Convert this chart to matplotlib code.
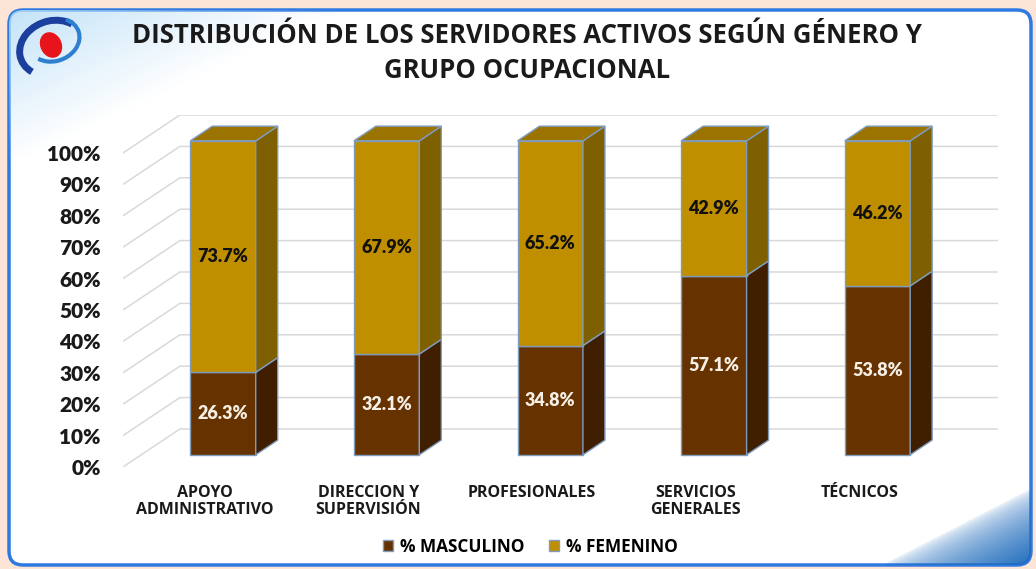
import numpy as np
import matplotlib
matplotlib.use("Agg")
import matplotlib.pyplot as plt
from matplotlib.patches import Polygon, Rectangle, FancyBboxPatch, Ellipse, Arc, Patch

# ---------------- data ----------------
categories = ["APOYO\nADMINISTRATIVO", "DIRECCION Y\nSUPERVISIÓN", "PROFESIONALES",
              "SERVICIOS\nGENERALES", "TÉCNICOS"]
masculino = [26.3, 32.1, 34.8, 57.1, 53.8]
femenino = [73.7, 67.9, 65.2, 42.9, 46.2]
yticks = [0, 10, 20, 30, 40, 50, 60, 70, 80, 90, 100]
ytick_labels = [f"{t}%" for t in yticks]
title = "DISTRIBUCIÓN DE LOS SERVIDORES ACTIVOS SEGÚN GÉNERO Y\nGRUPO OCUPACIONAL"
series_names = ["% MASCULINO", "% FEMENINO"]

# ---------------- style ----------------
NUMFONT = ["Lato", "DejaVu Sans"]
TXTFONT = ["Open Sans", "DejaVu Sans"]
plt.rcParams["font.family"] = NUMFONT
C_M_FRONT, C_M_SIDE, C_M_TOP = "#663300", "#3f1f00", "#4f2800"
C_F_FRONT, C_F_SIDE, C_F_TOP = "#bf8f00", "#7f6000", "#9a7300"
EDGE = "#7f9cc0"
GRID = "#d9d9d9"

W = 1036
H = 569
fig = plt.figure(figsize=(W / 100, H / 100), dpi=100)

# ---------------- background / frame ----------------
bg = fig.add_axes([0, 0, 1, 1], zorder=-5)
bg.set_xlim(0, W)
bg.set_ylim(H, 0)
bg.axis("off")
bg.add_patch(Rectangle((0, 0), W, H, color="#fce4d6", zorder=0))
frame = FancyBboxPatch((9, 10), W - 14, H - 14, boxstyle="round,pad=0,rounding_size=14",
                       facecolor="white", edgecolor="#2f7ae0", lw=2.5, zorder=1)
bg.add_patch(frame)
yy, xx = np.mgrid[0:H, 0:W]
# top-left light blue glow
s1 = 1 - (xx / 360 + yy / 170)
a1 = np.clip(s1, 0, 1) ** 1.0 * 0.9
img1 = np.zeros((H, W, 4))
img1[..., 0], img1[..., 1], img1[..., 2] = 0.72, 0.87, 0.97
img1[..., 3] = a1
im1 = bg.imshow(img1, extent=(0, W, H, 0), zorder=2, interpolation="bilinear")
im1.set_clip_path(frame)
# bottom-right blue corner
s2 = (xx - 880) / 156 + (yy - 485) / 80 - 1
a2 = np.clip(s2, 0, 1) ** 0.55
img2 = np.zeros((H, W, 4))
img2[..., 0], img2[..., 1], img2[..., 2] = 0.12, 0.42, 0.74
img2[..., 3] = a2
im2 = bg.imshow(img2, extent=(0, W, H, 0), zorder=3, interpolation="bilinear")
im2.set_clip_path(frame)
# logo
bg.add_patch(Ellipse((51, 45), 20, 25, angle=-25, color="#e8141c", zorder=6))
bg.add_patch(Arc((52, 48), 66, 54, angle=-20, theta1=150, theta2=330,
                 color="#1c3f9e", lw=5, zorder=5))
bg.add_patch(Arc((54, 40), 52, 42, angle=-20, theta1=-40, theta2=150,
                 color="#2e7fd0", lw=3, zorder=5))

# ---------------- main axes (pseudo-3D) ----------------
DX = 0.348   # depth offset in category units
DY = 12.1    # depth offset in percentage units
ZF, ZB = 0.32, 0.706
BW = 0.40

ax = fig.add_axes([0.1187, 0.1793, 0.8446, 0.6186])
ax.set_xlim(-0.5, 4.5 + DX)
ax.set_ylim(0, 100 + DY)
ax.patch.set_visible(False)
for sp in ax.spines.values():
    sp.set_visible(False)
ax.set_yticks(yticks, ytick_labels)
ax.set_xticks(range(len(categories)), categories)
ax.tick_params(axis="y", length=0, pad=16, labelsize=15)
ax.tick_params(axis="x", length=0, pad=13, labelsize=11.5)
for lab in ax.get_yticklabels():
    lab.set_fontweight("heavy")
    lab.set_color("#1a1a1a")
for lab in ax.get_xticklabels():
    lab.set_fontweight("bold")
    lab.set_family(TXTFONT)
    lab.set_color("#1a1a1a")
    lab.set_multialignment("center")
    lab.set_linespacing(1.05)

# gridlines: left diagonal + back wall
for t in yticks:
    ax.plot([-0.5, -0.5 + DX, 4.5 + DX], [t, t + DY, t + DY], color=GRID, lw=1.1,
            zorder=0, solid_capstyle="butt")


def draw_segment(i, b, t, front, side, top, draw_top):
    xf0 = i + ZF * DX - BW / 2
    xf1 = xf0 + BW
    yo = ZF * DY
    dzx = (ZB - ZF) * DX
    dzy = (ZB - ZF) * DY
    ax.add_patch(Rectangle((xf0, b + yo), BW, t - b, facecolor=front, edgecolor=EDGE,
                           lw=1, zorder=3))
    ax.add_patch(Polygon([(xf1, b + yo), (xf1 + dzx, b + yo + dzy),
                          (xf1 + dzx, t + yo + dzy), (xf1, t + yo)],
                         closed=True, facecolor=side, edgecolor=EDGE, lw=1, zorder=3))
    if draw_top:
        ax.add_patch(Polygon([(xf0, t + yo), (xf1, t + yo), (xf1 + dzx, t + yo + dzy),
                              (xf0 + dzx, t + yo + dzy)],
                             closed=True, facecolor=top, edgecolor=EDGE, lw=1, zorder=3))


for i, (m, f) in enumerate(zip(masculino, femenino)):
    draw_segment(i, 0, m, C_M_FRONT, C_M_SIDE, C_M_TOP, False)
    draw_segment(i, m, m + f, C_F_FRONT, C_F_SIDE, C_F_TOP, True)
    cx = i + ZF * DX
    ax.text(cx, m / 2 + ZF * DY, f"{m:.1f}%", ha="center", va="center", fontsize=13,
            fontweight="heavy", color="#f5efe6", zorder=5)
    ax.text(cx, m + f / 2 + ZF * DY, f"{f:.1f}%", ha="center", va="center", fontsize=13,
            fontweight="heavy", color="#111111", zorder=5)

# legend
handles = [Patch(facecolor=C_M_FRONT, edgecolor=EDGE), Patch(facecolor=C_F_FRONT, edgecolor=EDGE)]
leg = fig.legend(handles, series_names, loc="center", bbox_to_anchor=(0.512, 0.039), ncol=2,
                 frameon=False, prop={"weight": "bold", "size": 12.4, "family": TXTFONT},
                 handlelength=0.6, handleheight=0.6, handletextpad=0.4, columnspacing=1.4)

# title
fig.text(0.509, 0.906, title, ha="center", va="center", fontsize=18.5, fontweight="bold",
         family=TXTFONT, color="#1a1a1a", linespacing=1.38)

fig.savefig("out.png", dpi=100)
